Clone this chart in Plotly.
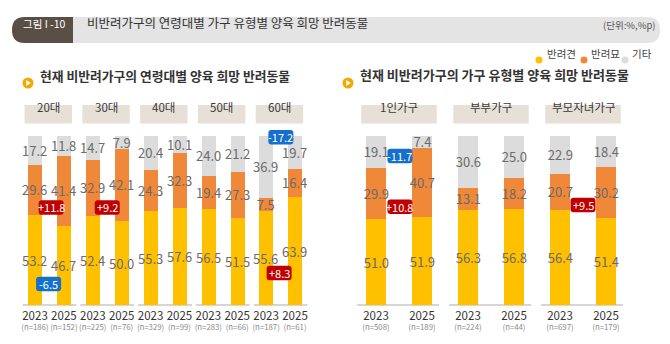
import plotly.graph_objects as go

# ---------------- data ----------------
years = ["2023", "2025"]

left_groups = ["20대", "30대", "40대", "50대", "60대"]
left_n = [186, 152, 225, 76, 329, 99, 283, 66, 187, 61]
left_dog = [53.2, 46.7, 52.4, 50.0, 55.3, 57.6, 56.5, 51.5, 55.6, 63.9]
left_cat = [29.6, 41.4, 32.9, 42.1, 24.3, 32.3, 19.4, 27.3, 7.5, 16.4]
left_etc = [17.2, 11.8, 14.7, 7.9, 20.4, 10.1, 24.0, 21.2, 36.9, 19.7]

right_groups = ["1인가구", "부부가구", "부모자녀가구"]
right_n = [508, 189, 224, 44, 697, 179]
right_dog = [51.0, 51.9, 56.3, 56.8, 56.4, 51.4]
right_cat = [29.9, 40.7, 13.1, 18.2, 20.7, 30.2]
right_etc = [19.1, 7.4, 30.6, 25.0, 22.9, 18.4]

series_names = ["반려견", "반려묘", "기타"]
colors = ["#FFC000", "#F0883A", "#DCDCDC"]

# highlighted changes (group index, series index) -> value = 2025 - 2023
left_highlights = [(0, 1), (0, 0), (1, 1), (4, 2), (4, 0)]
right_highlights = [(0, 2), (0, 1), (2, 1)]

title = "비반려가구의 연령대별 가구 유형별 양육 희망 반려동물"
fig_label = "그림 I -10"
unit = "(단위:%,%p)"
left_sub = "현재 비반려가구의 연령대별 양육 희망 반려동물"
right_sub = "현재 비반려가구의 가구 유형별 양육 희망 반려동물"

# ---------------- layout constants ----------------
W, H = 670, 344
KR = "Noto Sans CJK KR, Noto Sans, sans-serif"
NUM = "Noto Sans CJK KR, Liberation Sans, sans-serif"
LABEL_C = "#6b6b6b"
RED, BLUE = "#C00000", "#1470CC"
KSHIFT = 0.62  # vertical compensation factor for CJK annotation text

def px2paper_x(p):
    return p / W

def px2paper_y(p):
    return (H - p) / H

y_bottom, y_unit = 305, 1.7
y_max = 115
ydom = [px2paper_y(y_bottom), px2paper_y(y_bottom - y_unit * y_max)]

L0, Lstep = 35, 28.89
R0, Rstep = 376, 46
lrange = [-0.6, 9.6]
rrange = [-0.6, 5.6]
ldom = [px2paper_x(L0 + Lstep * lrange[0]), px2paper_x(L0 + Lstep * lrange[1])]
rdom = [px2paper_x(R0 + Rstep * rrange[0]), px2paper_x(R0 + Rstep * rrange[1])]

fig = go.Figure()

def add_bars(vals_list, xa, ya, width):
    xs = list(range(len(vals_list[0])))
    for name, vals, col in zip(series_names, vals_list, colors):
        fig.add_trace(go.Bar(
            x=xs, y=vals, name=name, marker=dict(color=col, line=dict(width=0)),
            width=width, xaxis=xa, yaxis=ya,
            texttemplate="%{y:.1f}", textposition="inside", insidetextanchor="middle",
            textangle=0, constraintext="none", cliponaxis=False,
            textfont=dict(family=NUM, size=13, color=LABEL_C),
            showlegend=False, hoverinfo="skip"))

add_bars([left_dog, left_cat, left_etc], "x", "y", 0.485)
add_bars([right_dog, right_cat, right_etc], "x2", "y2", 0.435)

def ticktexts(ns):
    out = []
    for i, n in enumerate(ns):
        out.append(f"<span style='font-size:11.5px;color:#333333'>{years[i % 2]}</span><br>"
                   f"<span style='font-size:7.8px;color:#8c8c8c'>(n={n})</span>")
    return out

axis_common = dict(showgrid=False, zeroline=False, showline=False, ticks="", tickangle=0,
                   tickfont=dict(family=NUM, size=8, color="#333"), fixedrange=True)

fig.update_layout(
    width=W, height=H, margin=dict(l=0, r=0, t=0, b=0),
    paper_bgcolor="white", plot_bgcolor="rgba(0,0,0,0)",
    barmode="stack", bargap=0,
    xaxis=dict(domain=ldom, range=lrange, tickmode="array",
               tickvals=list(range(len(left_n))), ticktext=ticktexts(left_n),
               anchor="y", ticklabelstandoff=6, **axis_common),
    yaxis=dict(domain=ydom, range=[0, y_max], visible=False, anchor="x"),
    xaxis2=dict(domain=rdom, range=rrange, tickmode="array",
                tickvals=list(range(len(right_n))), ticktext=ticktexts(right_n),
                anchor="y2", ticklabelstandoff=6, **axis_common),
    yaxis2=dict(domain=ydom, range=[0, y_max], visible=False, anchor="x2"),
)

shapes = []
annots = []

def ktext(x, y, text, size, color, xref="paper", yref="paper", xanchor="center", shift=True):
    annots.append(dict(x=x, y=y, xref=xref, yref=yref, xanchor=xanchor, yanchor="middle",
                       text=text, showarrow=False, yshift=KSHIFT * size if shift else 0,
                       font=dict(family=KR, size=size, color=color)))

# baselines and group header boxes
def group_deco(groups, xref, lo, hi, box_c, box_h):
    for g, name in enumerate(groups):
        c = 2 * g
        shapes.append(dict(type="line", xref=xref, yref="paper",
                           x0=c + lo, x1=c + hi, y0=ydom[0], y1=ydom[0],
                           line=dict(color="#C8C8C8", width=1.5), layer="below"))
        shapes.append(dict(type="rect", xref=xref, yref="paper",
                           x0=c + box_c - box_h, x1=c + box_c + box_h,
                           y0=px2paper_y(123.5), y1=px2paper_y(105),
                           fillcolor="#E6E0D6", line=dict(width=0), layer="below"))
        ktext(c + box_c, px2paper_y(114.5), name, 11.5, "#3a3a3a", xref=xref)

group_deco(left_groups, "x", -0.43, 1.43, 0.46, 0.82)
group_deco(right_groups, "x2", -0.41, 1.37, 0.5, 0.82)

# change badges
def rrect(w, h, r):
    a, b = w / 2, h / 2
    return (f"M {-a + r},{-b} L {a - r},{-b} Q {a},{-b} {a},{-b + r} L {a},{b - r} "
            f"Q {a},{b} {a - r},{b} L {-a + r},{b} Q {-a},{b} {-a},{b - r} "
            f"L {-a},{-b + r} Q {-a},{-b} {-a + r},{-b} Z")

left_badge_pos = [(0.56, 57.4), (0.47, 12.4), (2.5, 57.4), (8.51, 98.7), (8.45, 18.8)]
right_badge_pos = [(0.52, 87.6), (0.52, 57.8), (4.5, 58.8)]

def badges(highlights, series, pos, xref, yref):
    for (g, s), (bx, by) in zip(highlights, pos):
        v = round(series[s][2 * g + 1] - series[s][2 * g], 1)
        col = RED if v > 0 else BLUE
        txt = f"+{v:.1f}" if v > 0 else f"-{abs(v):.1f}"
        shapes.append(dict(type="path", xref=xref, yref=yref,
                           xsizemode="pixel", ysizemode="pixel",
                           xanchor=bx, yanchor=by, path=rrect(25, 14.5, 3),
                           fillcolor=col, line=dict(width=0), layer="above"))
        ktext(bx, by, txt, 11, "white", xref=xref, yref=yref, shift=False)

badges(left_highlights, [left_dog, left_cat, left_etc], left_badge_pos, "x", "y")
badges(right_highlights, [right_dog, right_cat, right_etc], right_badge_pos, "x2", "y2")

# header bar (pixel paths anchored at top-left of the page)
def P(x, y):
    return f"{x},{-y}"

top, bot, lft, rgt, r = 17, 43, 12, 660, 13
hdr = (f"M {P(lft + r, top)} L {P(rgt - r, top)} Q {P(rgt, top)} {P(rgt, top + r)} "
       f"Q {P(rgt, bot)} {P(rgt - r, bot)} L {P(lft + r, bot)} Q {P(lft, bot)} {P(lft, top + r)} "
       f"Q {P(lft, top)} {P(lft + r, top)} Z")
shapes.append(dict(type="path", xref="paper", yref="paper", xsizemode="pixel", ysizemode="pixel",
                   xanchor=0, yanchor=1, path=hdr, fillcolor="#E4E4E4", line=dict(width=0), layer="below"))
dk_r = 73
dark = (f"M {P(lft + r, top)} L {P(dk_r, top)} L {P(dk_r, bot)} L {P(lft + r, bot)} "
        f"Q {P(lft, bot)} {P(lft, top + r)} Q {P(lft, top)} {P(lft + r, top)} Z")
shapes.append(dict(type="path", xref="paper", yref="paper", xsizemode="pixel", ysizemode="pixel",
                   xanchor=0, yanchor=1, path=dark, fillcolor="#5A4F44", line=dict(width=0), layer="below"))
ktext(px2paper_x(44), px2paper_y(30.5), fig_label, 10.5, "white")
ktext(px2paper_x(85), px2paper_y(30), title, 12.5, "#333333", xanchor="left")
ktext(px2paper_x(658), px2paper_y(30.5), unit, 9.5, "#555555", xanchor="right")

# legend
leg = [(539, 545), (584, 589), (625, 630)]
for (dx, tx), name, col in zip(leg, series_names, colors):
    shapes.append(dict(type="circle", xref="paper", yref="paper", xsizemode="pixel", ysizemode="pixel",
                       xanchor=px2paper_x(dx), yanchor=px2paper_y(60), x0=-3.5, x1=3.5, y0=-3.5, y1=3.5,
                       fillcolor=col, line=dict(width=0)))
    ktext(px2paper_x(tx), px2paper_y(60), name, 10.5, "#444444", xanchor="left")

# subtitles with icons
for cx, tx, txt, sz in [(28, 38, left_sub, 12.8), (348, 358, right_sub, 13)]:
    shapes.append(dict(type="circle", xref="paper", yref="paper", xsizemode="pixel", ysizemode="pixel",
                       xanchor=px2paper_x(cx), yanchor=px2paper_y(83), x0=-5.5, x1=5.5, y0=-5.5, y1=5.5,
                       fillcolor="#F5A800", line=dict(width=0)))
    shapes.append(dict(type="path", xref="paper", yref="paper", xsizemode="pixel", ysizemode="pixel",
                       xanchor=px2paper_x(cx), yanchor=px2paper_y(83), path="M -1.8,3 L 2.8,0 L -1.8,-3 Z",
                       fillcolor="white", line=dict(width=0)))
    ktext(px2paper_x(tx), px2paper_y(83), f"<b>{txt}</b>", sz, "#333333", xanchor="left")

fig.update_layout(shapes=shapes, annotations=annots)
fig.write_html("out.html")
